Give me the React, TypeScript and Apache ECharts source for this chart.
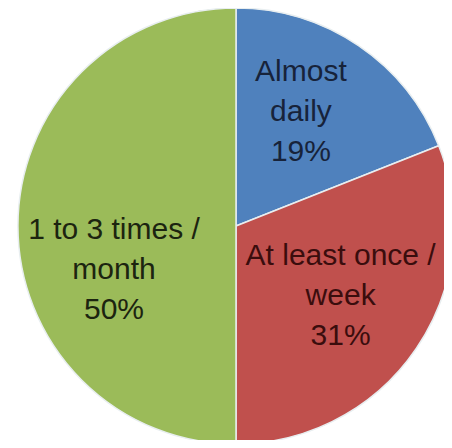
import React, { useEffect, useRef } from "react";
import * as echarts from "echarts";

const categories = ["Almost\ndaily", "At least once /\nweek", "1 to 3 times /\nmonth"];
const values = [19, 31, 50];
const colors = ["#4F81BD", "#C0504D", "#9BBB59"];
const labelColors = ["#17233a", "#3a0d0d", "#1c2410"];
const labelOffsets = [[2, -23], [12, 6], [-10, 42]];

export default function App() {
  const ref = useRef<HTMLDivElement>(null);
  useEffect(() => {
    if (!ref.current) return;
    const chart = echarts.init(ref.current, null, { renderer: "svg" });
    chart.setOption({
      animation: false,
      backgroundColor: "#ffffff",
      series: [
        {
          type: "pie",
          center: [236, 226],
          radius: 218,
          startAngle: 90,
          clockwise: true,
          itemStyle: { borderColor: "#e8eef0", borderWidth: 1.5 },
          label: {
            show: true,
            position: "inside",
            fontFamily: "Liberation Sans",
            fontSize: 30,
            lineHeight: 40,
            align: "center",
            formatter: (p: any) => `${p.name}\n${p.value}%`,
          },
          labelLine: { show: false },
          data: categories.map((c, i) => ({
            name: c,
            value: values[i],
            itemStyle: { color: colors[i] },
            label: { color: labelColors[i], offset: labelOffsets[i] },
          })),
        },
      ],
    });
    return () => chart.dispose();
  }, []);
  return <div ref={ref} style={{ width: 452, height: 448, margin: -8 }} />;
}
